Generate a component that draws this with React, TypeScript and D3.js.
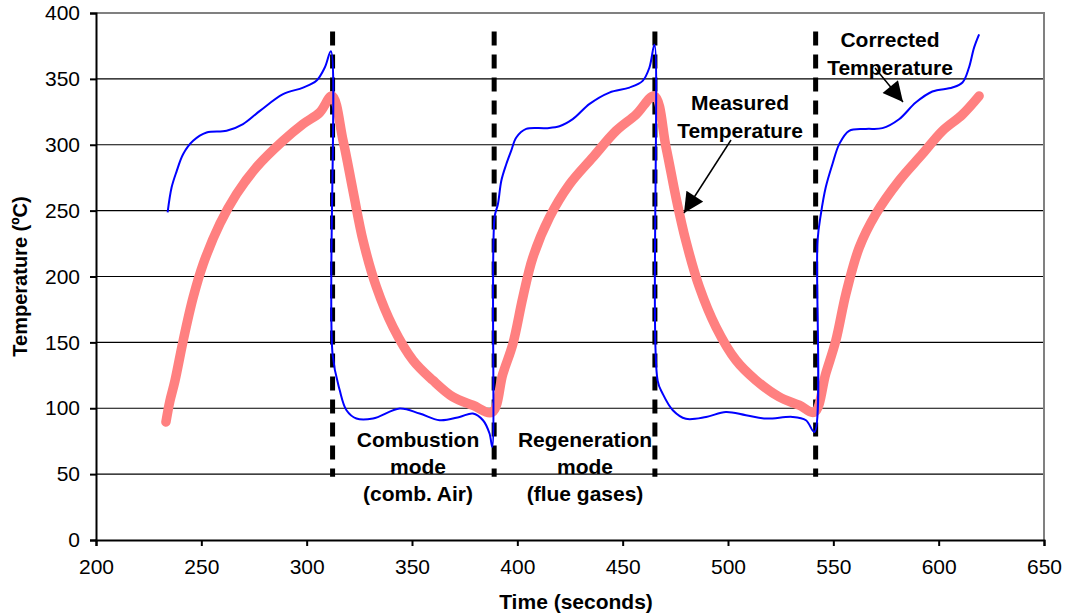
import React, { useRef, useEffect } from "react";
import * as d3 from "d3";

// measured temperature (thick pink line)
const measuredTime = [
  233.2, 235, 237.5, 241.4, 246.1, 250.9, 258.8, 266.7, 276.2, 288.8, 298.3, 306.2, 312,
  317.3, 322, 326.8, 333.1, 341, 350.5, 359.9, 369.4, 378.9, 388,
  393.1, 397.9, 402.6, 407.4, 415.3, 424.8, 435.8, 446.9, 456.4, 465,
  470.6, 475.3, 480, 486.4, 494.3, 503.8, 513.3, 524.3, 533.8, 541,
  546.4, 551.2, 556, 562.3, 570.2, 581.2, 592.3, 601.8, 611.3, 619.2,
];
const measuredTemp = [
  89.6, 105, 121, 151.5, 184, 209.6, 240, 262.6, 283, 303, 315.7, 324.5, 337,
  303, 265, 227, 192, 161.6, 136.4, 121.2, 108.6, 102.3, 97,
  126, 149, 184, 214.6, 245, 270, 290.4, 310.6, 323, 337,
  298, 260, 227, 192, 161.6, 136.4, 121.2, 108.6, 102.3, 97,
  126.3, 151.5, 187, 222, 247.5, 272.7, 293, 310.6, 323, 337,
];

// corrected temperature (thin blue line)
const correctedTime = [
  234, 235.9, 238.3, 241.4, 246.1, 252.5, 262, 269.8, 277.8, 288.8, 298.3, 304.6, 308.6, 311.5,
  312.3, 315.7, 318.9, 323.6, 331.5, 344.2, 353.6, 363.1, 372.6, 378.9, 383.7, 386.8, 388.1,
  389.2, 390.8, 392.4, 394.7, 397.1, 399.5, 404.2, 413.7, 420, 426.3, 434.3, 443.7, 453.2, 459.5, 462.7, 465.1,
  466.6, 469, 473.8, 480, 489.6, 499, 508.5, 518, 530.7, 537, 541,
  542.5, 544.1, 546.4, 549.6, 552.8, 557.5, 565.4, 573.3, 581.2, 589.1, 597, 606.5, 611.3, 614.4, 616.8, 619.2,
];
const correctedTemp = [
  248.7, 267.7, 280, 293, 303, 309.3, 310.6, 315.7, 325.7, 338.4, 343.4, 348.5, 358.6, 371,
  141, 113.6, 98.5, 92.2, 92.2, 99.8, 96, 90.9, 93.4, 96, 90.9, 80.8, 70.7,
  245, 255, 272.7, 285, 295.5, 305.5, 312, 312.6, 314, 319.4, 331, 339.6, 343.4, 348.5, 358.6, 376,
  121, 111, 98.5, 92, 93.4, 97.2, 94.7, 92.2, 93.4, 90.9, 82,
  227, 247.5, 267.7, 285.4, 300.5, 310.6, 312, 312.6, 319.4, 332, 340.4, 343.4, 347.2, 358.6, 373.7, 383.8,
];

// mode switch times (dashed lines)
const switchTimes = [312.3, 389, 465.3, 541.6];

const xTicks = [200, 250, 300, 350, 400, 450, 500, 550, 600, 650];
const yTicks = [0, 50, 100, 150, 200, 250, 300, 350, 400];

const App = () => {
  const ref = useRef<SVGSVGElement>(null);

  useEffect(() => {
    const width = 1065;
    const height = 614;
    const marginLeft = 96;
    const marginRight = 21;
    const marginTop = 13;
    const marginBottom = 74;
    const font = "'Liberation Sans', Arial, sans-serif";
    const fs = 21;

    const x = d3.scaleLinear().domain([200, 650]).range([marginLeft, width - marginRight]);
    const y = d3.scaleLinear().domain([0, 400]).range([height - marginBottom, marginTop]);

    const svg = d3.select(ref.current);
    svg.selectAll("*").remove();

    // gridlines
    svg.append("g")
      .selectAll("line")
      .data(yTicks.slice(1, -1))
      .enter()
      .append("line")
      .attr("x1", x(200))
      .attr("x2", x(650))
      .attr("y1", (d) => y(d))
      .attr("y2", (d) => y(d))
      .attr("stroke", "black")
      .attr("stroke-width", 1.2);

    // top and right frame
    svg.append("path")
      .attr("d", `M${x(200)},${y(400)}H${x(650)}V${y(0)}`)
      .attr("fill", "none")
      .attr("stroke", "#808080")
      .attr("stroke-width", 2);

    // x-axis
    const gx = svg.append("g")
      .attr("transform", `translate(0,${y(0)})`)
      .call(d3.axisBottom(x).tickValues(xTicks).tickSize(6).tickPadding(13));
    gx.selectAll("text").attr("font-size", fs).attr("font-family", font).attr("fill", "black");

    // y-axis
    const gy = svg.append("g")
      .attr("transform", `translate(${x(200)},0)`)
      .call(d3.axisLeft(y).tickValues(yTicks).tickSize(6).tickPadding(10));
    gy.selectAll("text").attr("font-size", fs).attr("font-family", font).attr("fill", "black");

    [gx, gy].forEach((g) => {
      g.select(".domain").attr("stroke", "black").attr("stroke-width", 2);
      g.selectAll(".tick line").attr("stroke", "black").attr("stroke-width", 2);
    });

    // axis titles
    svg.append("text")
      .attr("x", 576)
      .attr("y", 609)
      .attr("text-anchor", "middle")
      .attr("font-family", font)
      .attr("font-weight", "bold")
      .attr("font-size", fs)
      .text("Time (seconds)");

    svg.append("text")
      .attr("transform", `translate(27,${(y(0) + y(400)) / 2}) rotate(-90)`)
      .attr("text-anchor", "middle")
      .attr("font-family", font)
      .attr("font-weight", "bold")
      .attr("font-size", 20)
      .text("Temperature (ºC)");

    // mode labels
    const modeLabels = [
      { cx: 418, lines: ["Combustion", "mode", "(comb. Air)"] },
      { cx: 585, lines: ["Regeneration", "mode", "(flue gases)"] },
    ];
    modeLabels.forEach((m) => {
      const t = svg.append("text")
        .attr("text-anchor", "middle")
        .attr("font-family", font)
        .attr("font-weight", "bold")
        .attr("font-size", fs);
      m.lines.forEach((l, i) => {
        t.append("tspan").attr("x", m.cx).attr("y", 447 + i * 27).text(l);
      });
    });

    // line annotations
    const notes = [
      { cx: 740, y0: 110, lines: ["Measured", "Temperature"] },
      { cx: 890, y0: 47, lines: ["Corrected", "Temperature"] },
    ];
    notes.forEach((n) => {
      const t = svg.append("text")
        .attr("text-anchor", "middle")
        .attr("font-family", font)
        .attr("font-weight", "bold")
        .attr("font-size", fs);
      n.lines.forEach((l, i) => {
        t.append("tspan").attr("x", n.cx).attr("y", n.y0 + i * 27.5).text(l);
      });
    });

    // dashed mode-switch lines
    svg.append("g")
      .selectAll("line")
      .data(switchTimes)
      .enter()
      .append("line")
      .attr("x1", (d) => x(d))
      .attr("x2", (d) => x(d))
      .attr("y1", y(386))
      .attr("y2", y(48))
      .attr("stroke", "black")
      .attr("stroke-width", 5)
      .attr("stroke-dasharray", "14,9");

    const measured = measuredTime.map((t, i) => [t, measuredTemp[i]] as [number, number]);
    const corrected = correctedTime.map((t, i) => [t, correctedTemp[i]] as [number, number]);

    // measured line
    svg.append("path")
      .attr("fill", "none")
      .attr("stroke", "#ff8080")
      .attr("stroke-width", 9.5)
      .attr("stroke-linecap", "round")
      .attr("stroke-linejoin", "round")
      .attr("d", d3.line<[number, number]>()
        .x((d) => x(d[0]))
        .y((d) => y(d[1]))
        .curve(d3.curveCatmullRom.alpha(0.5))(measured));

    // corrected line
    svg.append("path")
      .attr("fill", "none")
      .attr("stroke", "#0000ff")
      .attr("stroke-width", 2)
      .attr("d", d3.line<[number, number]>()
        .x((d) => x(d[0]))
        .y((d) => y(d[1]))
        .curve(d3.curveCatmullRom.alpha(0.5))(corrected));

    // arrows
    const defs = svg.append("defs");
    defs.append("marker")
      .attr("id", "head")
      .attr("viewBox", "0 0 10 10")
      .attr("refX", 10)
      .attr("refY", 5)
      .attr("markerUnits", "userSpaceOnUse")
      .attr("markerWidth", 22)
      .attr("markerHeight", 20)
      .attr("orient", "auto")
      .append("path")
      .attr("d", "M0,0L10,5L0,10Z")
      .attr("fill", "black");

    const arrows = [
      [731, 140, 684, 213],
      [875, 68, 903, 102],
    ];
    svg.append("g")
      .selectAll("line")
      .data(arrows)
      .enter()
      .append("line")
      .attr("x1", (d) => d[0])
      .attr("y1", (d) => d[1])
      .attr("x2", (d) => d[2])
      .attr("y2", (d) => d[3])
      .attr("stroke", "black")
      .attr("stroke-width", 1.5)
      .attr("marker-end", "url(#head)");
  }, []);

  return (
    <svg
      ref={ref}
      width={1065}
      height={614}
      style={{ position: "absolute", left: 0, top: 0, background: "white" }}
    />
  );
};

export default App;
